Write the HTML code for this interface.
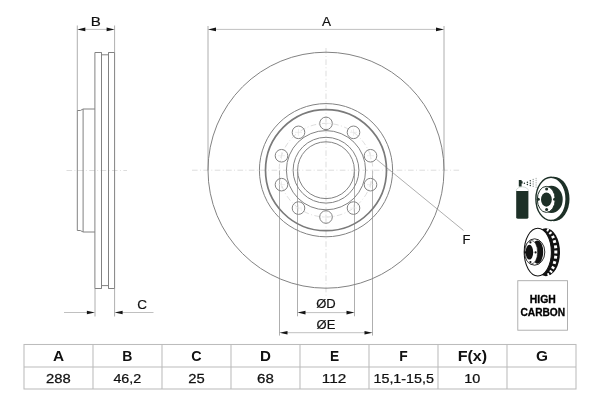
<!DOCTYPE html>
<html><head><meta charset="utf-8"><style>
html,body{margin:0;padding:0;background:#fff;}
body{width:600px;height:400px;overflow:hidden;position:relative;font-family:"Liberation Sans",sans-serif;}
svg{position:absolute;left:0;top:0;filter:blur(0.35px);}
.l{stroke:#828282;stroke-width:1;fill:none;}
.e{stroke:#9a9a9a;stroke-width:0.8;fill:none;}
.t{stroke:#7a7a7a;stroke-width:1.7;fill:none;}
.cl{stroke:#cfcfcf;stroke-width:0.7;fill:none;stroke-dasharray:5.6 2.4 0.9 2.47;}
.cm{stroke:#e2e2e2;stroke-width:0.6;fill:none;}
.d{stroke:#b0b0b0;stroke-width:0.8;fill:none;}
.ar{fill:#151515;stroke:none;}
.tb{stroke:#bcbcbc;stroke-width:1.05;fill:none;}
.ic{fill:#1b2c24;}
</style></head><body>
<svg width="600" height="400" viewBox="0 0 600 400">
<path class="cl" d="M66.5 170.5H127"/>
<path class="e" d="M77.3 25.5V110.5M114.6 25.5V52.5M95 288.5V316.5M114.6 288.5V316.5"/>
<g class="l"><path d="M77.3 110.5V230.5"/><path d="M77.3 110.5H80.3L83.1 109H94.9"/><path d="M77.3 230.5H80.3L83.1 232H94.9"/><path d="M83.1 109V232"/><path d="M94.9 52.5V288.5"/><path d="M94.9 52.5H101.5V54.8H108.5V52.5H114.6"/><path d="M94.9 288.5H101.5V285.6H108.5V288.5H114.6"/><path d="M101.5 52.5V288.5"/><path d="M108.5 52.5V288.5"/><path d="M114.6 52.5V288.5"/></g>
<path class="d" d="M84 29.4H108"/><path class="ar" d="M77.3 29.4L85.3 27.599999999999998V31.2Z"/><path class="ar" d="M114.6 29.4L106.6 27.599999999999998V31.2Z"/><text transform="translate(95.9,25.6) scale(1.12,1)" text-anchor="middle" style="font-family:'Liberation Sans',sans-serif;font-size:13.5px;font-weight:normal;fill:#111;stroke:#111;stroke-width:0.2px">B</text>
<path class="d" d="M64 312.5H88M121 312.5H153.5"/><path class="ar" d="M94.9 312.5L86.9 310.7V314.3Z"/><path class="ar" d="M114.6 312.5L122.6 310.7V314.3Z"/><text transform="translate(142.2,308.7) scale(1.0,1)" text-anchor="middle" style="font-family:'Liberation Sans',sans-serif;font-size:13.5px;font-weight:normal;fill:#111;stroke:#111;stroke-width:0.2px">C</text>
<path class="cl" d="M192 170.2H460"/>
<path class="cl" d="M326 48V295.5"/>
<path class="e" d="M208 26V170.5M444 26V170.5"/>
<path class="e" d="M279.5 170.5V335.6M372.5 170.5V335.6M297.5 172V316.3M354.5 172V316.3"/>
<circle class="cl" cx="326" cy="170.2" r="46.8"/>
<path class="cm" d="M322.50 123.40H329.50M326.00 126.90V119.90M350.01 132.34H357.01M353.51 135.84V128.84M367.01 155.74H374.01M370.51 159.24V152.24M367.01 184.66H374.01M370.51 188.16V181.16M350.01 208.06H357.01M353.51 211.56V204.56M322.50 217.00H329.50M326.00 220.50V213.50M294.99 208.06H301.99M298.49 211.56V204.56M277.99 184.66H284.99M281.49 188.16V181.16M277.99 155.74H284.99M281.49 159.24V152.24M294.99 132.34H301.99M298.49 135.84V128.84"/>
<g class="l"><circle cx="326" cy="170.2" r="118"/><circle cx="326" cy="170.2" r="66.6"/><circle cx="326" cy="170.2" r="39.6"/><circle cx="326" cy="170.2" r="32.9"/><circle cx="326" cy="170.2" r="28.4"/><circle cx="326.00" cy="123.40" r="6.3"/><circle cx="353.51" cy="132.34" r="6.3"/><circle cx="370.51" cy="155.74" r="6.3"/><circle cx="370.51" cy="184.66" r="6.3"/><circle cx="353.51" cy="208.06" r="6.3"/><circle cx="326.00" cy="217.00" r="6.3"/><circle cx="298.49" cy="208.06" r="6.3"/><circle cx="281.49" cy="184.66" r="6.3"/><circle cx="281.49" cy="155.74" r="6.3"/><circle cx="298.49" cy="132.34" r="6.3"/></g>
<path class="e" d="M376.3 159.2L463.5 230.5"/><circle class="t" cx="326" cy="170.2" r="60.5"/>
<path class="d" d="M215 29.4H437"/><path class="ar" d="M208 29.4L216 27.599999999999998V31.2Z"/><path class="ar" d="M444 29.4L436 27.599999999999998V31.2Z"/><text transform="translate(326.4,25.6) scale(1.0,1)" text-anchor="middle" style="font-family:'Liberation Sans',sans-serif;font-size:13.5px;font-weight:normal;fill:#111;stroke:#111;stroke-width:0.2px">A</text>
<path class="d" d="M304 312.6H348"/><path class="ar" d="M297.5 312.6L305.5 310.8V314.40000000000003Z"/><path class="ar" d="M354.5 312.6L346.5 310.8V314.40000000000003Z"/><text transform="translate(326,308.3) scale(1.0,1)" text-anchor="middle" style="font-family:'Liberation Sans',sans-serif;font-size:13px;font-weight:normal;fill:#111;stroke:#111;stroke-width:0.2px">ØD</text>
<path class="d" d="M286 332.7H366"/><path class="ar" d="M279.5 332.7L287.5 330.9V334.5Z"/><path class="ar" d="M372.5 332.7L364.5 330.9V334.5Z"/><text transform="translate(326,328.8) scale(1.0,1)" text-anchor="middle" style="font-family:'Liberation Sans',sans-serif;font-size:13px;font-weight:normal;fill:#111;stroke:#111;stroke-width:0.2px">ØE</text>
<text transform="translate(466.4,243.8) scale(1.0,1)" text-anchor="middle" style="font-family:'Liberation Sans',sans-serif;font-size:13px;font-weight:normal;fill:#111;stroke:#111;stroke-width:0.2px">F</text>
<g fill="#1d3027"><path d="M516.2 191H528.4V217.2Q528.4 218.8 526.5 218.8H518.1Q516.2 218.8 516.2 217.2Z"/><path d="M516.2 191Q516.5 187.2 522.3 186.8Q528.1 187.2 528.4 191" fill="none" stroke="#c9d2cd" stroke-width="0.8"/><path d="M518.8 180H521.6V181.2H522.6V183.6H521.6V186.6H518.8Z"/><circle cx="524.4" cy="183.2" r="0.75" opacity="1"/><circle cx="527.4" cy="182.3" r="0.75" opacity="1"/><circle cx="527.4" cy="184.6" r="0.75" opacity="1"/><circle cx="530.3" cy="180.8" r="0.75" opacity="0.9"/><circle cx="530.3" cy="183.2" r="0.75" opacity="0.9"/><circle cx="530.3" cy="185.6" r="0.75" opacity="0.9"/><circle cx="533.2" cy="179.6" r="0.75" opacity="0.45"/><circle cx="533.2" cy="181.8" r="0.75" opacity="0.45"/><circle cx="533.2" cy="184" r="0.75" opacity="0.45"/><circle cx="533.2" cy="186.2" r="0.75" opacity="0.45"/><circle cx="536.1" cy="178.4" r="0.75" opacity="0.3"/><circle cx="536.1" cy="180.6" r="0.75" opacity="0.3"/><circle cx="536.1" cy="182.8" r="0.75" opacity="0.3"/><circle cx="536.1" cy="185" r="0.75" opacity="0.3"/><circle cx="536.1" cy="187.2" r="0.75" opacity="0.3"/></g>
<ellipse cx="553.9" cy="199" rx="15.6" ry="22.2" fill="#1d3027"/><ellipse cx="551" cy="198.9" rx="15.1" ry="21.6" fill="#fff" stroke="#1d3027" stroke-width="1.4"/><ellipse cx="551.4" cy="199.4" rx="11.3" ry="13.6" fill="#1d3027"/><ellipse cx="546.3" cy="199.4" rx="9" ry="13" fill="#fff" stroke="#1d3027" stroke-width="1"/><ellipse cx="546.4" cy="199.6" rx="5.4" ry="7.1" fill="#1d3027"/><circle cx="546.6" cy="188.9" r="1.5" fill="#1d3027"/><circle cx="538.3" cy="199.3" r="1.5" fill="#1d3027"/><circle cx="554.6" cy="199.3" r="1.5" fill="#1d3027"/><circle cx="546.6" cy="209.4" r="1.5" fill="#1d3027"/>
<ellipse cx="545.9" cy="252.2" rx="14.1" ry="24" fill="#121212"/><rect x="-1.5" y="-0.93" width="3" height="1.86" fill="#fff" transform="translate(547.80,229.90) rotate(-65.9)"/><rect x="-1.5" y="-1.06" width="3" height="2.11" fill="#fff" transform="translate(550.40,233.10) rotate(-40.1)"/><rect x="-1.5" y="-1.26" width="3" height="2.53" fill="#fff" transform="translate(553.00,237.00) rotate(-26.5)"/><rect x="-1.5" y="-1.40" width="3" height="2.79" fill="#fff" transform="translate(554.50,241.60) rotate(-16.4)"/><rect x="-1.5" y="-1.47" width="3" height="2.95" fill="#fff" transform="translate(555.60,246.80) rotate(-7.8)"/><rect x="-1.5" y="-1.50" width="3" height="3.00" fill="#fff" transform="translate(555.80,252.00) rotate(-0.3)"/><rect x="-1.5" y="-1.48" width="3" height="2.96" fill="#fff" transform="translate(555.60,257.20) rotate(7.2)"/><rect x="-1.5" y="-1.40" width="3" height="2.80" fill="#fff" transform="translate(554.50,262.60) rotate(16.0)"/><rect x="-1.5" y="-1.25" width="3" height="2.51" fill="#fff" transform="translate(553.00,267.60) rotate(27.0)"/><rect x="-1.5" y="-1.04" width="3" height="2.08" fill="#fff" transform="translate(551.00,271.50) rotate(41.1)"/><rect x="-1.5" y="-0.93" width="3" height="1.86" fill="#fff" transform="translate(548.40,274.70) rotate(69.4)"/><ellipse cx="537.8" cy="252.1" rx="13.6" ry="23.9" fill="#fff" stroke="#121212" stroke-width="1.05"/><ellipse cx="534.6" cy="252" rx="10.2" ry="13.2" fill="#fff" stroke="#121212" stroke-width="0.9"/><ellipse cx="537.5" cy="252.1" rx="5.7" ry="11.7" fill="#121212"/><ellipse cx="531.3" cy="252.2" rx="6.3" ry="11.8" fill="#fff" stroke="#121212" stroke-width="0.6"/><ellipse cx="529.4" cy="252.2" rx="3.8" ry="7.4" fill="#121212"/><circle cx="530.4" cy="242.4" r="1.1" fill="#121212"/><circle cx="535.6" cy="252.4" r="1.1" fill="#121212"/><circle cx="530.4" cy="262" r="1.1" fill="#121212"/><circle cx="525.3" cy="252.4" r="1.1" fill="#121212"/>
<rect x="517.8" y="280.7" width="49.7" height="49.5" fill="none" stroke="#a8a8a8" stroke-width="0.9"/>
<text transform="translate(542.8,302.6) scale(1.04,1)" text-anchor="middle" style="font-family:'Liberation Sans',sans-serif;font-size:10px;font-weight:bold;fill:#000;stroke:#000;stroke-width:0.3px">HIGH</text>
<text transform="translate(542.8,315.6) scale(1.02,1)" text-anchor="middle" style="font-family:'Liberation Sans',sans-serif;font-size:10px;font-weight:bold;fill:#000;stroke:#000;stroke-width:0.3px">CARBON</text>
<rect class="tb" x="24" y="344.5" width="552" height="44.5"/><path class="tb" d="M24 367H576M93 344.5V389M162 344.5V389M231 344.5V389M300 344.5V389M369 344.5V389M438 344.5V389M507 344.5V389"/>
<text transform="translate(58.5,360.6) scale(1.1,1)" text-anchor="middle" style="font-family:'Liberation Sans',sans-serif;font-size:14px;font-weight:bold;fill:#111">A</text>
<text transform="translate(127.4,360.6) scale(1.0,1)" text-anchor="middle" style="font-family:'Liberation Sans',sans-serif;font-size:14px;font-weight:bold;fill:#111">B</text>
<text transform="translate(196.4,360.6) scale(1.02,1)" text-anchor="middle" style="font-family:'Liberation Sans',sans-serif;font-size:14px;font-weight:bold;fill:#111">C</text>
<text transform="translate(265.4,360.6) scale(1.08,1)" text-anchor="middle" style="font-family:'Liberation Sans',sans-serif;font-size:14px;font-weight:bold;fill:#111">D</text>
<text transform="translate(334.5,360.6) scale(0.98,1)" text-anchor="middle" style="font-family:'Liberation Sans',sans-serif;font-size:14px;font-weight:bold;fill:#111">E</text>
<text transform="translate(403.4,360.6) scale(0.99,1)" text-anchor="middle" style="font-family:'Liberation Sans',sans-serif;font-size:14px;font-weight:bold;fill:#111">F</text>
<text transform="translate(472.4,360.6) scale(1.15,1)" text-anchor="middle" style="font-family:'Liberation Sans',sans-serif;font-size:14px;font-weight:bold;fill:#111">F(x)</text>
<text transform="translate(542,360.6) scale(1.1,1)" text-anchor="middle" style="font-family:'Liberation Sans',sans-serif;font-size:14px;font-weight:bold;fill:#111">G</text>
<text transform="translate(58.4,382.6) scale(1.14,1)" text-anchor="middle" style="font-family:'Liberation Sans',sans-serif;font-size:13px;font-weight:normal;fill:#111;stroke:#111;stroke-width:0.25px">288</text>
<text transform="translate(127.3,382.6) scale(1.1,1)" text-anchor="middle" style="font-family:'Liberation Sans',sans-serif;font-size:13px;font-weight:normal;fill:#111;stroke:#111;stroke-width:0.25px">46,2</text>
<text transform="translate(196.6,382.6) scale(1.14,1)" text-anchor="middle" style="font-family:'Liberation Sans',sans-serif;font-size:13px;font-weight:normal;fill:#111;stroke:#111;stroke-width:0.25px">25</text>
<text transform="translate(265.5,382.6) scale(1.16,1)" text-anchor="middle" style="font-family:'Liberation Sans',sans-serif;font-size:13px;font-weight:normal;fill:#111;stroke:#111;stroke-width:0.25px">68</text>
<text transform="translate(334,382.6) scale(1.18,1)" text-anchor="middle" style="font-family:'Liberation Sans',sans-serif;font-size:13px;font-weight:normal;fill:#111;stroke:#111;stroke-width:0.25px">112</text>
<text transform="translate(403.7,382.6) scale(1.1,1)" text-anchor="middle" style="font-family:'Liberation Sans',sans-serif;font-size:13px;font-weight:normal;fill:#111;stroke:#111;stroke-width:0.25px">15,1-15,5</text>
<text transform="translate(472.2,382.6) scale(1.11,1)" text-anchor="middle" style="font-family:'Liberation Sans',sans-serif;font-size:13px;font-weight:normal;fill:#111;stroke:#111;stroke-width:0.25px">10</text>
</svg>
</body></html>
